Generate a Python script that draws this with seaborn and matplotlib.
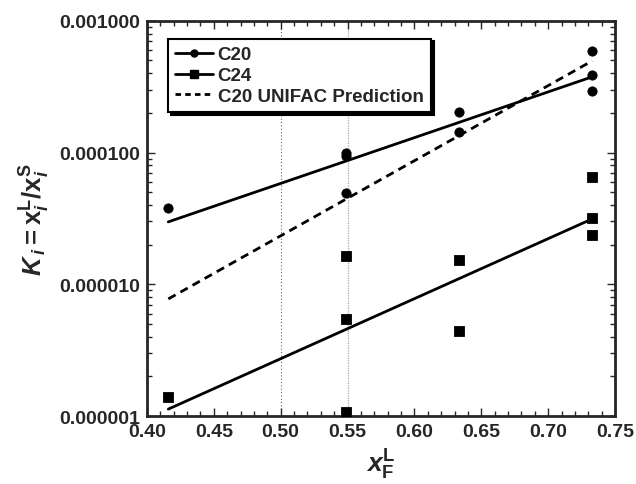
import matplotlib
matplotlib.use("Agg")
import matplotlib.pyplot as plt
import numpy as np
import pandas as pd
import seaborn as sns
from matplotlib.lines import Line2D
from matplotlib.ticker import FixedLocator, FuncFormatter, LogLocator, MultipleLocator, NullFormatter

# measured distribution coefficients
c20_x = [0.416, 0.549, 0.549, 0.549, 0.633, 0.633, 0.733, 0.733, 0.733]
c20_k = [3.8e-5, 1.0e-4, 9.4e-5, 4.9e-5, 2.05e-4, 1.44e-4, 5.9e-4, 3.9e-4, 2.95e-4]

c24_x = [0.416, 0.549, 0.549, 0.549, 0.633, 0.633, 0.733, 0.733, 0.733]
c24_k = [1.40e-6, 1.64e-5, 5.5e-6, 1.07e-6, 1.52e-5, 4.4e-6, 6.5e-5, 3.2e-5, 2.37e-5]

# exponential fits (straight on log axis) and UNIFAC prediction
fit_x = [0.416, 0.733]
c20_fit = [2.98e-5, 3.76e-4]
c24_fit = [1.13e-6, 3.14e-5]
unifac_fit = [7.75e-6, 4.97e-4]

sns.set_style("ticks")
plt.rcParams["font.family"] = ["Liberation Sans", "DejaVu Sans"]
plt.rcParams["font.weight"] = "bold"
plt.rcParams["mathtext.fontset"] = "custom"
plt.rcParams["mathtext.rm"] = "Liberation Sans:bold"
plt.rcParams["mathtext.bf"] = "Liberation Sans:bold"
plt.rcParams["mathtext.it"] = "Liberation Sans:italic:bold"

fig = plt.figure(figsize=(6.36, 4.85), dpi=100)
ax = fig.add_axes([0.231, 0.140, 0.736, 0.815])

df20 = pd.DataFrame({"x": c20_x, "k": c20_k})
df24 = pd.DataFrame({"x": c24_x, "k": c24_k})
fits = pd.DataFrame({"x": fit_x, "c20": c20_fit, "c24": c24_fit, "unifac": unifac_fit})

ax.axvline(0.50, color="0.4", lw=0.8, ls=(0, (1, 2)), zorder=0)
ax.axvline(0.55, color="0.65", lw=0.9, ls=(0, (1, 1)), zorder=0)

sns.lineplot(data=fits, x="x", y="c20", ax=ax, color="black", lw=2)
sns.lineplot(data=fits, x="x", y="c24", ax=ax, color="black", lw=2)
sns.lineplot(data=fits, x="x", y="unifac", ax=ax, color="black", lw=2, linestyle=(0, (3, 2)))
sns.scatterplot(data=df20, x="x", y="k", ax=ax, marker="o", color="black", s=45, edgecolor="black", zorder=5)
sns.scatterplot(data=df24, x="x", y="k", ax=ax, marker="s", color="black", s=55, edgecolor="black", zorder=5)

ax.set_yscale("log")
ax.set_xlim(0.40, 0.75)
ax.set_ylim(1e-6, 1e-3)
ax.xaxis.set_major_locator(MultipleLocator(0.05))
ax.xaxis.set_minor_locator(MultipleLocator(0.01))
ax.xaxis.set_major_formatter(FuncFormatter(lambda v, p: f"{v:.2f}"))
ax.yaxis.set_major_locator(FixedLocator([1e-6, 1e-5, 1e-4, 1e-3]))
ax.yaxis.set_minor_locator(LogLocator(base=10, subs=np.arange(2, 10)))
ax.yaxis.set_minor_formatter(NullFormatter())
ax.yaxis.set_major_formatter(FuncFormatter(lambda v, p: f"{v:.6f}"))

ax.tick_params(which="both", direction="in", top=True, right=True, width=1)
ax.tick_params(which="major", length=6, labelsize=14, pad=5)
ax.tick_params(which="minor", length=3.5)
for lab in ax.get_xticklabels() + ax.get_yticklabels():
    lab.set_fontweight("bold")
for sp in ax.spines.values():
    sp.set_linewidth(2)

ax.set_xlabel(r"$x_{\mathrm{F}}^{\mathrm{L}}$", fontsize=19, labelpad=5)
ax.set_ylabel(r"$K_{\,i}=\mathrm{x}_{i}^{\mathrm{L}}/\mathrm{x}_{i}^{\mathrm{S}}$", fontsize=18.5, labelpad=5)

handles = [
    Line2D([], [], color="black", lw=2, marker="o", markersize=5),
    Line2D([], [], color="black", lw=2, marker="s", markersize=6),
    Line2D([], [], color="black", lw=2, linestyle=(0, (2, 1.5))),
]
leg = ax.legend(handles, ["C20", "C24", "C20 UNIFAC Prediction"], loc="upper left",
                bbox_to_anchor=(0.045, 0.955), borderaxespad=0, fancybox=False,
                shadow={"color": "black", "alpha": 1}, frameon=True, framealpha=1,
                edgecolor="black", handlelength=2.0, handletextpad=0.25,
                labelspacing=0.2, borderpad=0.4, prop={"weight": "bold", "size": 13.5})
leg.get_frame().set_linewidth(1.5)

fig.savefig("out.png", dpi=100)
